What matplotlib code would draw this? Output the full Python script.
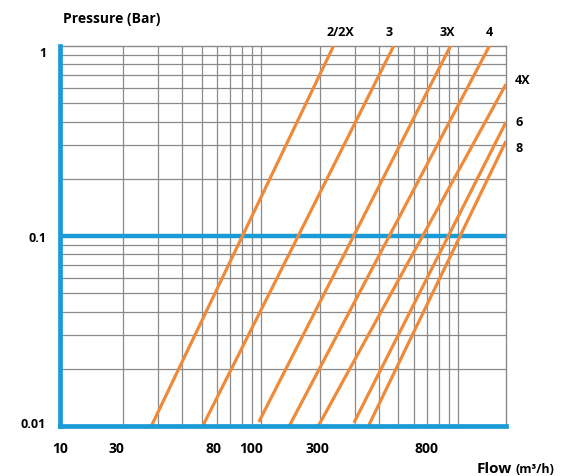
import matplotlib
matplotlib.use('Agg')
import matplotlib.pyplot as plt
from matplotlib.ticker import FixedLocator, NullFormatter

# ---- data ----
series_names = ["2/2X", "3", "3X", "4", "4X", "6", "8"]
flow_start = [27.8, 50.7, 97.7, 139.4, 196, 297, 352]
pressure_start = [0.01, 0.01, 0.0105, 0.01, 0.01, 0.0104, 0.01]
flow_end = [234, 473, 919, 1449, 1759, 1759, 1759]
pressure_end = [1.0, 1.0, 1.0, 1.0, 0.63, 0.398, 0.316]

x_tick_labels = ["10", "30", "80", "100", "300", "800"]
x_tick_pos = [9.55, 18.5, 57.5, 89.3, 194.5, 695]
y_tick_labels = ["1", "0.1", "0.01"]
y_tick_pos = [0.94, 0.1, 0.0105]

x_grid = [20, 30, 40, 50, 60, 70, 80, 90, 100, 200, 300, 400, 500, 600, 700, 800, 900, 1000]
y_grid = [0.02, 0.03, 0.04, 0.05, 0.06, 0.07, 0.08, 0.09,
          0.2, 0.3, 0.4, 0.5, 0.6, 0.7, 0.8, 0.9]

BLUE = '#1a9ad6'
ORANGE = '#ee8a3a'
GRID = '#8a8a8a'

plt.rcParams['font.family'] = ['Open Sans', 'DejaVu Sans']

W, H = 565, 477
fig = plt.figure(figsize=(W / 100, H / 100), dpi=100)
ax = fig.add_axes([60 / W, 1 - 427 / H, (506 - 60) / W, (427 - 47) / H])
ax.set_xscale('log')
ax.set_yscale('log')
ax.set_xlim(10, 1759)
ax.set_ylim(0.01, 1)

ax.xaxis.set_minor_locator(FixedLocator(x_grid))
ax.yaxis.set_minor_locator(FixedLocator(y_grid))
ax.xaxis.set_minor_formatter(NullFormatter())
ax.yaxis.set_minor_formatter(NullFormatter())
ax.grid(which='minor', color=GRID, lw=0.9)
ax.grid(which='major', visible=False)

ax.set_xticks(x_tick_pos)
ax.set_xticklabels(x_tick_labels, fontweight='bold', fontsize=10)
ax.set_yticks(y_tick_pos)
ax.set_yticklabels(y_tick_labels, fontweight='bold', fontsize=9)
ax.tick_params(which='both', length=0)
ax.tick_params(axis='x', pad=11)
ax.tick_params(axis='y', pad=10)

for s in ['top', 'right']:
    ax.spines[s].set_color(GRID)
    ax.spines[s].set_linewidth(1.0)
for s in ['left', 'bottom']:
    ax.spines[s].set_color(BLUE)
    ax.spines[s].set_linewidth(3.4)
    ax.spines[s].set_capstyle('projecting')
    ax.spines[s].set_zorder(5)

ax.axhline(0.1, color=BLUE, lw=3.2, zorder=3)

for qs, ps, qe, pe in zip(flow_start, pressure_start, flow_end, pressure_end):
    ax.plot([qs, qe], [ps, pe], color=ORANGE, lw=2.3, solid_capstyle='butt', zorder=4)

def ftext(x, y, s, **kw):
    fig.text(x / W, 1 - y / H, s, **kw)

# series labels
top_label_x = [340, 389, 447, 489]
for name, x in zip(series_names[:4], top_label_x):
    ftext(x, 33, name, ha='center', va='center', fontsize=9, fontweight='bold')
side_label_y = [80, 123, 148]
for name, y in zip(series_names[4:], side_label_y):
    ftext(515, y, name, ha='left', va='center', fontsize=9, fontweight='bold')

ftext(63, 19, "Pressure (Bar)", ha='left', va='center', fontsize=10, fontweight='bold')
ftext(477, 473, "Flow", ha='left', va='baseline', fontsize=11, fontweight='bold')
ftext(516, 473, "(m³/h)", ha='left', va='baseline', fontsize=9, fontweight='bold')

fig.savefig('out.png', dpi=100)
